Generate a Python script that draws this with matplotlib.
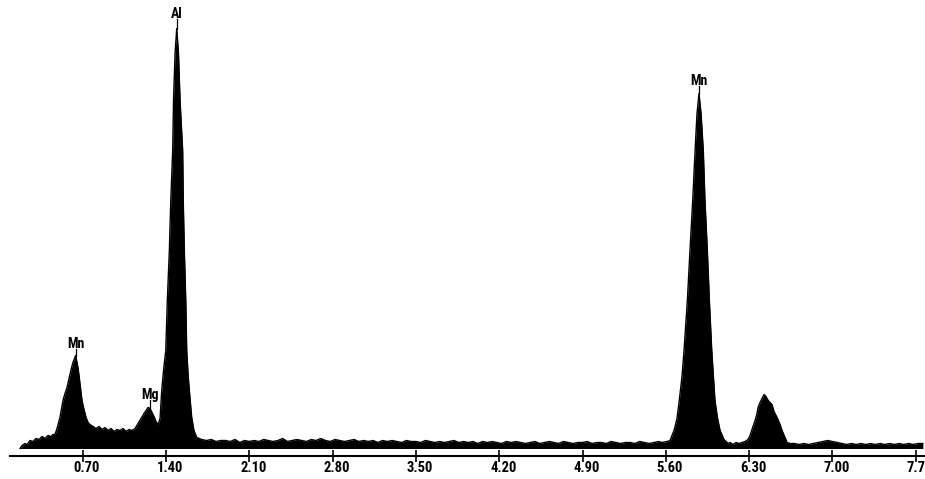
import numpy as np
import matplotlib
matplotlib.use("Agg")
from matplotlib import pyplot as plt
from matplotlib import font_manager

# EDS spectrum, energy in keV, counts in arbitrary units

# low energy part: Mn L, Mg K, Al K
low_kev = [0.173, 0.190, 0.215, 0.232, 0.257, 0.282, 0.308, 0.333, 0.358, 0.383,
           0.408, 0.434, 0.450, 0.467, 0.484, 0.509, 0.534, 0.551, 0.568, 0.585,
           0.602, 0.618, 0.631, 0.641, 0.652, 0.660, 0.669, 0.677, 0.694, 0.711,
           0.728, 0.745, 0.761, 0.787, 0.812, 0.837, 0.862, 0.887, 0.913, 0.938,
           0.963, 0.988, 1.013, 1.039, 1.064, 1.089, 1.114, 1.140, 1.165, 1.190,
           1.215, 1.232, 1.249, 1.266, 1.282, 1.299, 1.316, 1.333, 1.350, 1.364,
           1.379, 1.398, 1.411, 1.428, 1.440, 1.456, 1.463, 1.476, 1.490, 1.505,
           1.518, 1.540, 1.545, 1.554, 1.566, 1.574, 1.585, 1.596, 1.616, 1.635,
           1.658]
low_counts = [0, 3, 5, 4, 8, 7, 10, 9, 12, 10,
              13, 12, 14, 14, 20, 31, 48, 55, 61, 70,
              79, 86, 90, 93, 86, 81, 73, 65, 48, 39,
              31, 26, 24, 22, 20, 22, 19, 21, 18, 20,
              17, 19, 18, 20, 17, 19, 18, 20, 25, 30,
              35, 38, 41, 40, 36, 32, 27, 24, 30, 58,
              78, 98, 148, 198, 248, 298, 348, 395, 420, 395,
              348, 298, 248, 198, 148, 98, 75, 58, 31, 18,
              11]

# flat background 1.70 - 5.54 keV, one value every 0.04 keV
mid_start = 1.70
mid_step = 0.04
mid_counts = [9, 8, 9, 7, 8, 8, 7, 9, 6, 8,
              7, 8, 7, 9, 8, 7, 8, 10, 7, 8,
              9, 8, 7, 9, 8, 10, 8, 7, 9, 8,
              7, 8, 9, 7, 8, 7, 8, 6, 8, 7,
              8, 7, 6, 8, 7, 7, 6, 8, 7, 6,
              7, 6, 7, 8, 6, 7, 6, 7, 5, 7,
              6, 7, 6, 5, 7, 6, 7, 6, 5, 6,
              7, 5, 6, 7, 6, 5, 7, 6, 5, 6,
              6, 7, 5, 6, 6, 5, 7, 6, 5, 6,
              6, 5, 7, 6, 5, 6, 7]

# Mn K alpha and K beta
high_kev = [5.568, 5.610, 5.635, 5.669, 5.694, 5.713, 5.736, 5.753, 5.781, 5.803,
            5.826, 5.846, 5.862, 5.879, 5.896, 5.915, 5.929, 5.949, 5.966, 5.986,
            6.001, 6.013, 6.035, 6.056, 6.089, 6.123, 6.140, 6.165, 6.190, 6.215,
            6.240, 6.266, 6.291, 6.308, 6.324, 6.350, 6.366, 6.375, 6.392, 6.408,
            6.425, 6.442, 6.450, 6.467, 6.492, 6.509, 6.535, 6.560, 6.577, 6.602,
            6.619, 6.644]
high_counts = [6, 7, 8, 18, 30, 48, 72, 98, 148, 198,
               248, 298, 335, 355, 335, 298, 248, 198, 148, 98,
               70, 48, 30, 18, 9, 5, 6, 4, 6, 5,
               6, 7, 9, 13, 19, 28, 35, 41, 46, 50,
               54, 52, 50, 47, 44, 37, 31, 24, 18, 11,
               6, 5]

# tail 6.68 - 7.76 keV, one value every 0.04 keV
tail_start = 6.68
tail_step = 0.04
tail_counts = [5, 4, 5, 4, 5, 6, 7, 8, 7, 6,
               5, 4, 5, 4, 5, 4, 5, 4, 5, 4,
               5, 4, 5, 4, 5, 4, 5, 5]

tick_values = [0.70, 1.40, 2.10, 2.80, 3.50, 4.20, 4.90, 5.60, 6.30, 7.00, 7.70]
tick_labels = ["0.70", "1.40", "2.10", "2.80", "3.50", "4.20", "4.90",
               "5.60", "6.30", "7.00", "7.70"]

peak_names = ["Mn", "Mg", "Al", "Mn"]
peak_kev = [0.641, 1.266, 1.490, 5.879]
peak_counts = [93, 41, 420, 355]
peak_label_counts = [104.5, 53.5, 434.5, 367.5]

# narrow bold font if one is installed
installed = {f.name for f in font_manager.fontManager.ttflist}
label_font = ["DejaVu Sans"]
tick_size, peak_size = 8, 7.5
for cand in ["Liberation Sans Narrow", "DejaVu Sans Condensed", "Roboto Condensed"]:
    if cand in installed:
        label_font = [cand, "DejaVu Sans"]
        tick_size, peak_size = 10.5, 10
        break
condensed = any(f.name == "DejaVu Sans" and f.stretch == "condensed"
                for f in font_manager.fontManager.ttflist)
if label_font == ["DejaVu Sans"] and condensed:
    tick_size, peak_size = 9, 8.5

mid_kev = mid_start + mid_step * np.arange(len(mid_counts))
tail_kev = tail_start + tail_step * np.arange(len(tail_counts))
energy = np.concatenate([low_kev, mid_kev, high_kev, tail_kev])
counts = np.concatenate([low_counts, mid_counts, high_counts, tail_counts])

fig = plt.figure(figsize=(9.25, 4.79), dpi=100)
W, H = 925, 479
ax = fig.add_axes([10 / W, (H - 455.5) / H, (W - 10) / W, 455.5 / H])
ax.set_xlim(0.089, 7.778)
ax.set_ylim(-7, 448.5)

ax.fill_between(energy, counts, 0, color="black", linewidth=0)
ax.plot(energy, counts, color="black", linewidth=1.0)

# peak labels with their small marker lines
for name, e, c, lc in zip(peak_names, peak_kev, peak_counts, peak_label_counts):
    ax.plot([e, e], [c, lc - 5], color="black", linewidth=0.9)
    ax.text(e, lc, name, ha="center", va="center", fontsize=peak_size,
            fontweight="bold", family=label_font, fontstretch="condensed")

for s in ["top", "left", "right"]:
    ax.spines[s].set_visible(False)
ax.spines["bottom"].set_linewidth(1.5)
ax.set_yticks([])
ax.set_xticks(tick_values)
ax.set_xticklabels([])
ax.tick_params(axis="x", direction="inout", length=8, width=1.2)

for t, lab in zip(tick_values, tick_labels):
    ax.annotate(lab, xy=(t, 0), xycoords=("data", "axes fraction"),
                xytext=(4, -12.5), textcoords="offset pixels",
                ha="center", va="center", fontsize=tick_size, fontweight="bold",
                family=label_font, fontstretch="condensed",
                annotation_clip=False)

fig.savefig("out.png", dpi=100)
